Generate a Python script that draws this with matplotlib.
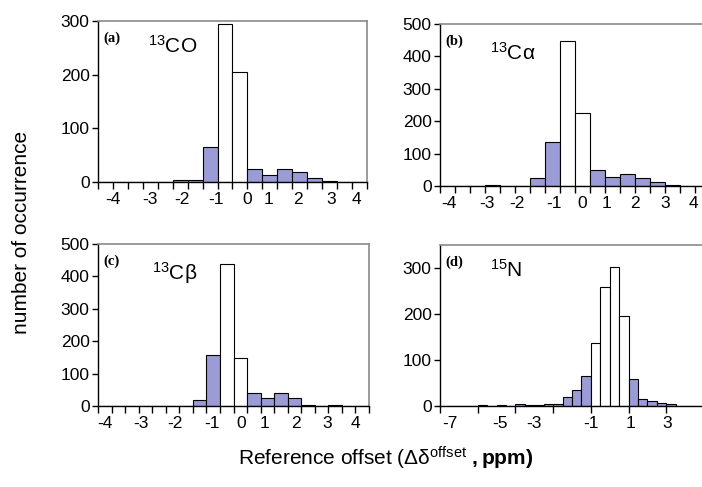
import matplotlib
matplotlib.use("Agg")
import matplotlib.pyplot as plt
import numpy as np

plt.rcParams['font.family'] = ['Liberation Sans', 'DejaVu Sans']
plt.rcParams['mathtext.fontset'] = 'custom'
plt.rcParams['mathtext.rm'] = 'Liberation Sans'
plt.rcParams['mathtext.it'] = 'Liberation Sans:italic'
plt.rcParams['mathtext.bf'] = 'Liberation Sans:bold'

# counts per bin (bins are 0.5 ppm wide, index = bin number)
co_counts = [0, 0, 0, 0, 0, 4, 4, 65, 295, 205, 24, 13, 24, 19, 7, 2, 0, 0]
ca_counts = [0, 0, 0, 4, 0, 0, 26, 137, 448, 224, 50, 29, 36, 26, 11, 4, 0, 0]
cb_counts = [0, 0, 0, 0, 0, 0, 0, 17, 158, 437, 148, 40, 25, 40, 25, 4, 0, 3, 0, 0]
n_counts = [0, 0, 0, 0, 2, 0, 2, 0, 4, 2, 3, 5, 5, 20, 35, 66, 137, 259, 302, 196,
            58, 16, 10, 7, 5, 0, 0, 0]

# bins drawn unfilled
co_white = [8, 9]
ca_white = [8, 9]
cb_white = [9, 10]
n_white = [16, 17, 18, 19]

# tick label text and where it sits (in bin-index units)
ppm_labels = ['-4', '-3', '-2', '-1', '0', '1', '2', '3', '4']
co_label_pos = [1.0, 3.5, 5.6, 7.9, 10.0, 11.4, 13.4, 15.6, 17.3]
ca_label_pos = [0.6, 3.1, 5.1, 7.6, 9.5, 11.1, 13.0, 15.0, 16.9]
cb_label_pos = [0.5, 3.2, 5.7, 8.4, 10.6, 12.3, 14.6, 16.9, 19.0]
n_labels = ['-7', '-5', '-3', '-1', '1', '3']
n_label_pos = [1.1, 6.4, 10.0, 16.0, 20.2, 24.1]

W, H = 702, 487
fig = plt.figure(figsize=(W / 100, H / 100), dpi=100)

def make_ax(l, r, t, b):
    return fig.add_axes([l / W, (H - b) / H, (r - l) / W, (b - t) / H])

blue = '#9b9bd5'

def panel(ax, counts, white, ymax, ystep, lab_pos, labs, tick_every, tag, name, name_xy):
    n = len(counts)
    x = np.arange(n)
    cols = ['white' if i in white else blue for i in x]
    ax.bar(x, counts, width=1.0, align='edge', color=cols, edgecolor='black',
           linewidth=0.8, zorder=2)
    ax.set_xlim(0, n)
    ax.set_ylim(0, ymax)
    ax.set_yticks(np.arange(0, ymax + 1, ystep))
    ax.set_xticks(np.arange(0, n + 1, tick_every))
    ax.set_xticklabels([])
    # x labels sit off the tick marks, as in the original
    for p, s in zip(lab_pos, labs):
        ax.annotate(s, xy=(p, 0), xycoords=('data', 'axes fraction'),
                    xytext=(0, -7), textcoords='offset points',
                    ha='center', va='top', fontsize=12.5, annotation_clip=False)
    ax.tick_params(axis='x', which='major', direction='out', length=5, width=1)
    ax.tick_params(axis='y', direction='out', length=4, width=1, labelsize=12.5, pad=2)
    for s in ['top', 'right']:
        ax.spines[s].set_color('#8a8a8a')
        ax.spines[s].set_linewidth(1.2)
    for s in ['left', 'bottom']:
        ax.spines[s].set_color('black')
        ax.spines[s].set_linewidth(1.0)
    ax.text(0.02, 0.895, tag, transform=ax.transAxes, family='Liberation Serif',
            fontweight='bold', fontsize=10.5, va='center')
    ax.text(name_xy[0], name_xy[1], name, transform=ax.transAxes, fontsize=15,
            va='baseline')

ax_a = make_ax(98, 367, 21, 182)
panel(ax_a, co_counts, co_white, 300, 100, co_label_pos, ppm_labels, 1, '(a)',
      r'$^{13}$CO', (0.185, 0.805))

ax_b = make_ax(440, 710, 24, 186)
panel(ax_b, ca_counts, ca_white, 500, 100, ca_label_pos, ppm_labels, 1, '(b)',
      r'$^{13}$C' + 'α', (0.185, 0.78))

ax_c = make_ax(98, 369, 244, 406)
panel(ax_c, cb_counts, cb_white, 500, 100, cb_label_pos, ppm_labels, 1, '(c)',
      r'$^{13}$C' + 'β', (0.2, 0.78))

ax_d = make_ax(440, 704, 245, 406)
panel(ax_d, n_counts, n_white, 350, 100, n_label_pos, n_labels, 4, '(d)',
      r'$^{15}$N', (0.19, 0.80))
ax_d.set_yticks([0, 100, 200, 300])

fig.text(22 / W, 1 - 232 / H, 'number of occurrence', rotation=90, fontsize=15,
         ha='center', va='center')
fig.text(386 / W, 1 - 458 / H,
         'Reference offset (Δδ' + r'$^{\mathrm{offset}}$ $\mathbf{,ppm)}$',
         fontsize=15, ha='center', va='center')

fig.savefig('out.png', dpi=100)
